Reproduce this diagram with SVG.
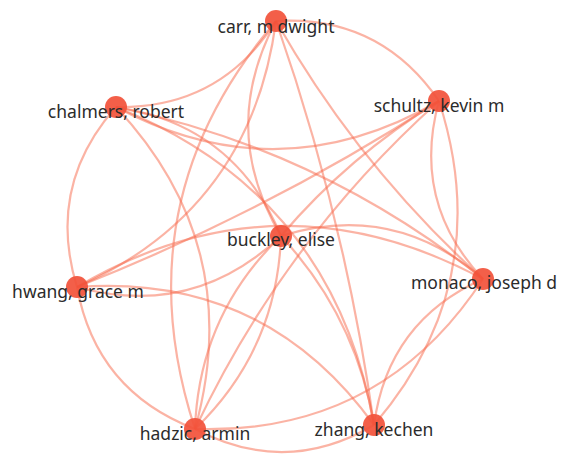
<svg xmlns="http://www.w3.org/2000/svg" width="562" height="457" viewBox="0 0 562 457">
<style>
.e{fill:none;stroke:#f8684a;stroke-opacity:0.5;stroke-width:2.2}
.n{fill:#f2513a;fill-opacity:0.92}
.t{font-family:"Noto Sans","Open Sans",sans-serif;font-size:17.5px;fill:#2b2b2b;text-anchor:middle}
</style>
<rect width="562" height="457" fill="#fff"/>
<g id="edges">
<path class="e" d="M276,21 Q220,109 116,107"/>
<path class="e" d="M276,21 Q380,15 439,101"/>
<path class="e" d="M281,236 Q218,130 276,21"/>
<path class="e" d="M483,279 Q359,167 276,21"/>
<path class="e" d="M276,21 Q251,210 77,287"/>
<path class="e" d="M195,429 Q121,202 276,21"/>
<path class="e" d="M276,21 Q345,218 374,425"/>
<path class="e" d="M439,101 Q279,194 116,107"/>
<path class="e" d="M116,107 Q235,125 281,236"/>
<path class="e" d="M116,107 Q320,149 483,279"/>
<path class="e" d="M77,287 Q46,186 116,107"/>
<path class="e" d="M116,107 Q246,246 195,429"/>
<path class="e" d="M116,107 Q334,194 374,425"/>
<path class="e" d="M281,236 Q349,156 439,101"/>
<path class="e" d="M483,279 Q411,202 439,101"/>
<path class="e" d="M77,287 Q267,212 439,101"/>
<path class="e" d="M195,429 Q284,240 439,101"/>
<path class="e" d="M439,101 Q497,281 374,425"/>
<path class="e" d="M281,236 Q394,201 483,279"/>
<path class="e" d="M281,236 Q193,319 77,287"/>
<path class="e" d="M195,429 Q199,315 281,236"/>
<path class="e" d="M281,236 Q277,350 195,429"/>
<path class="e" d="M281,236 Q356,317 374,425"/>
<path class="e" d="M77,287 Q278,169 483,279"/>
<path class="e" d="M483,279 Q381,435 195,429"/>
<path class="e" d="M374,425 Q388,321 483,279"/>
<path class="e" d="M195,429 Q96,391 77,287"/>
<path class="e" d="M77,287 Q264,273 374,425"/>
<path class="e" d="M374,425 Q286,477 195,429"/>
</g>
<g id="carr"><circle class="n" cx="276" cy="21" r="11"/><text class="t" x="276" y="33">carr, m dwight</text></g>
<g id="chalmers"><circle class="n" cx="116" cy="107" r="11"/><text class="t" x="116" y="118">chalmers, robert</text></g>
<g id="schultz"><circle class="n" cx="439" cy="101" r="11"/><text class="t" x="439" y="112">schultz, kevin m</text></g>
<g id="buckley"><circle class="n" cx="281" cy="236" r="11"/><text class="t" x="281" y="246">buckley, elise</text></g>
<g id="monaco"><circle class="n" cx="483" cy="279" r="11"/><text class="t" x="484" y="289">monaco, joseph d</text></g>
<g id="hwang"><circle class="n" cx="77" cy="287" r="11"/><text class="t" x="78" y="298">hwang, grace m</text></g>
<g id="hadzic"><circle class="n" cx="195" cy="429" r="11"/><text class="t" x="195" y="440">hadzic, armin</text></g>
<g id="zhang"><circle class="n" cx="374" cy="425" r="11"/><text class="t" x="374" y="436">zhang, kechen</text></g>
</svg>
